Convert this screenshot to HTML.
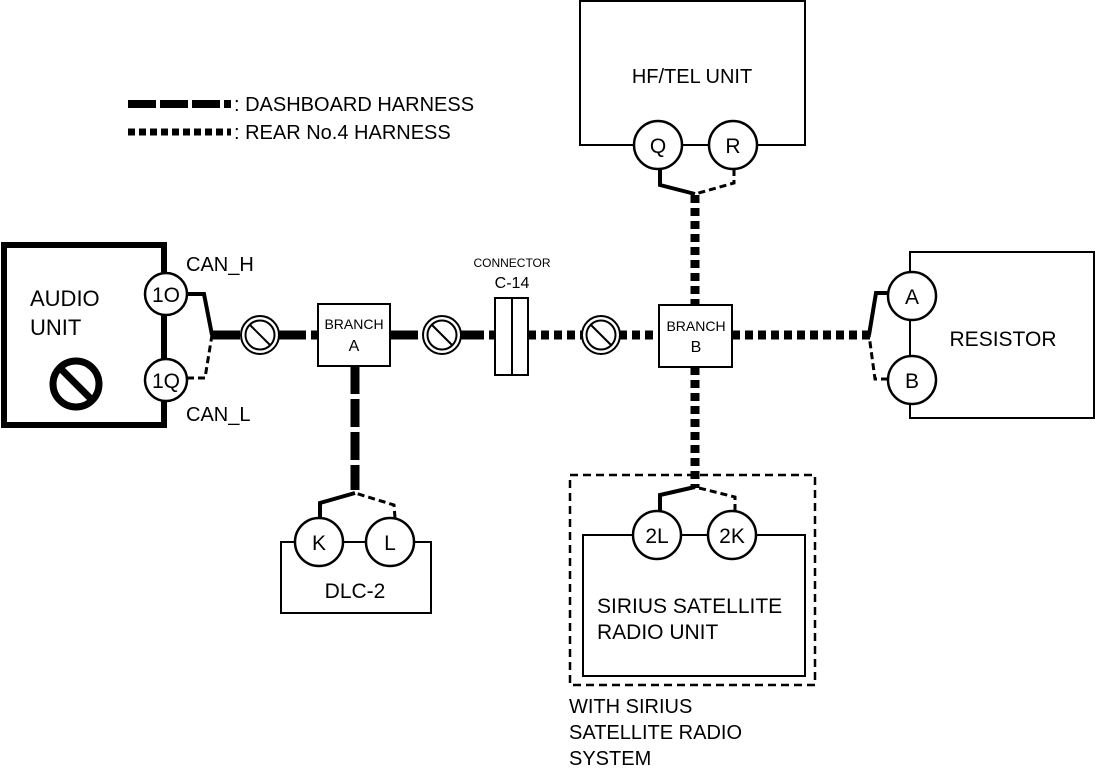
<!DOCTYPE html>
<html><head><meta charset="utf-8"><style>
html,body{margin:0;padding:0;background:#fff}
svg{display:block}
text{font-family:"Liberation Sans",Arial,sans-serif;fill:#000}
</style></head><body>
<svg width="1095" height="775" viewBox="0 0 1095 775" xmlns="http://www.w3.org/2000/svg">
<defs>
<g id="nosym">
<circle r="19" fill="#fff" stroke="#000" stroke-width="2"/>
<circle r="14.5" fill="none" stroke="#000" stroke-width="2"/>
<line x1="-10" y1="-10" x2="10" y2="10" stroke="#000" stroke-width="2"/>
</g>
</defs>
<!-- legend -->
<line x1="128" y1="104" x2="231" y2="104" stroke="#000" stroke-width="8" stroke-dasharray="28,4"/>
<text x="234" y="111" font-size="20">: DASHBOARD HARNESS</text>
<line x1="128" y1="132" x2="231" y2="132" stroke="#000" stroke-width="7" stroke-dasharray="7,4"/>
<text x="234" y="139" font-size="20">: REAR No.4 HARNESS</text>

<!-- harness lines -->
<line x1="212" y1="335" x2="318" y2="335" stroke="#000" stroke-width="9" stroke-dasharray="28,5"/>
<line x1="390" y1="335" x2="495" y2="335" stroke="#000" stroke-width="9" stroke-dasharray="28,5"/>
<line x1="528" y1="335" x2="660" y2="335" stroke="#000" stroke-width="9" stroke-dasharray="8,5"/>
<line x1="732" y1="335" x2="870" y2="335" stroke="#000" stroke-width="9" stroke-dasharray="8,5"/>
<line x1="355" y1="366" x2="355" y2="490" stroke="#000" stroke-width="9" stroke-dasharray="28,5"/>
<line x1="695" y1="195" x2="695" y2="305" stroke="#000" stroke-width="9" stroke-dasharray="8,5"/>
<line x1="695" y1="367" x2="695" y2="488" stroke="#000" stroke-width="9" stroke-dasharray="8,5"/>

<!-- audio unit -->
<rect x="4" y="245" width="160" height="180" fill="#fff" stroke="#000" stroke-width="6"/>
<text x="30" y="306" font-size="22">AUDIO</text>
<text x="30" y="335" font-size="22">UNIT</text>
<circle cx="76" cy="384" r="23" fill="none" stroke="#000" stroke-width="7"/>
<line x1="60" y1="368" x2="92" y2="400" stroke="#000" stroke-width="7"/>
<circle cx="166" cy="294" r="21" fill="#fff" stroke="#000" stroke-width="2.5"/>
<circle cx="166" cy="380" r="21" fill="#fff" stroke="#000" stroke-width="2.5"/>
<text x="166" y="302" font-size="21" text-anchor="middle">1O</text>
<text x="166" y="388" font-size="21" text-anchor="middle">1Q</text>
<text x="186" y="271" font-size="20">CAN_H</text>
<text x="186" y="421" font-size="20">CAN_L</text>
<polyline points="187,294 204,294 212,335" fill="none" stroke="#000" stroke-width="4"/>
<polyline points="187,378 205,378 212,335" fill="none" stroke="#000" stroke-width="3" stroke-dasharray="7,4"/>

<use href="#nosym" x="260" y="335"/>
<use href="#nosym" x="442" y="335"/>
<use href="#nosym" x="601" y="335"/>

<!-- branch A -->
<rect x="318" y="304" width="72" height="62" fill="#fff" stroke="#000" stroke-width="2"/>
<text x="354" y="329" font-size="14" text-anchor="middle">BRANCH</text>
<text x="354" y="351" font-size="16" text-anchor="middle">A</text>

<!-- connector C-14 -->
<text x="512" y="267" font-size="12" text-anchor="middle">CONNECTOR</text>
<text x="512" y="288" font-size="16" text-anchor="middle">C-14</text>
<rect x="495" y="298" width="33" height="77" fill="#fff" stroke="#000" stroke-width="2"/>
<line x1="512" y1="298" x2="512" y2="375" stroke="#000" stroke-width="2"/>

<!-- branch B -->
<rect x="659" y="305" width="73" height="62" fill="#fff" stroke="#000" stroke-width="2"/>
<text x="696" y="331" font-size="14" text-anchor="middle">BRANCH</text>
<text x="696" y="352" font-size="16" text-anchor="middle">B</text>

<!-- HF/TEL -->
<rect x="580" y="1" width="225" height="144" fill="#fff" stroke="#000" stroke-width="2"/>
<text x="692" y="83" font-size="20" text-anchor="middle">HF/TEL UNIT</text>
<circle cx="658" cy="145" r="24" fill="#fff" stroke="#000" stroke-width="2.5"/>
<circle cx="733" cy="145" r="24" fill="#fff" stroke="#000" stroke-width="2.5"/>
<text x="658" y="153" font-size="21" text-anchor="middle">Q</text>
<text x="733" y="153" font-size="21" text-anchor="middle">R</text>
<polyline points="660,169 660,185 695,194" fill="none" stroke="#000" stroke-width="4"/>
<polyline points="734,169 734,183 695,194" fill="none" stroke="#000" stroke-width="3" stroke-dasharray="7,4"/>

<!-- resistor -->
<rect x="910" y="252" width="184" height="166" fill="#fff" stroke="#000" stroke-width="2"/>
<text x="1003" y="346" font-size="21" text-anchor="middle">RESISTOR</text>
<circle cx="912" cy="296" r="24" fill="#fff" stroke="#000" stroke-width="2.5"/>
<circle cx="912" cy="380" r="24" fill="#fff" stroke="#000" stroke-width="2.5"/>
<text x="912" y="304" font-size="21" text-anchor="middle">A</text>
<text x="912" y="388" font-size="21" text-anchor="middle">B</text>
<polyline points="888,293 876,293 869,335" fill="none" stroke="#000" stroke-width="4"/>
<polyline points="888,379 875,379 869,335" fill="none" stroke="#000" stroke-width="3" stroke-dasharray="7,4"/>

<!-- DLC-2 -->
<rect x="281" y="542" width="150" height="71" fill="#fff" stroke="#000" stroke-width="2"/>
<text x="355" y="598" font-size="21" text-anchor="middle">DLC-2</text>
<circle cx="319" cy="542" r="24" fill="#fff" stroke="#000" stroke-width="2.5"/>
<circle cx="390" cy="542" r="24" fill="#fff" stroke="#000" stroke-width="2.5"/>
<text x="319" y="550" font-size="21" text-anchor="middle">K</text>
<text x="390" y="550" font-size="21" text-anchor="middle">L</text>
<polyline points="320,518 320,503 355,493" fill="none" stroke="#000" stroke-width="4"/>
<polyline points="395,518 394,505 355,493" fill="none" stroke="#000" stroke-width="3" stroke-dasharray="7,4"/>

<!-- Sirius -->
<rect x="570" y="475" width="245" height="210" fill="none" stroke="#000" stroke-width="2.5" stroke-dasharray="8,5"/>
<rect x="583" y="535" width="222" height="141" fill="#fff" stroke="#000" stroke-width="2"/>
<text x="597" y="613" font-size="21">SIRIUS SATELLITE</text>
<text x="597" y="639" font-size="21">RADIO UNIT</text>
<circle cx="657" cy="535" r="24" fill="#fff" stroke="#000" stroke-width="2.5"/>
<circle cx="732" cy="535" r="24" fill="#fff" stroke="#000" stroke-width="2.5"/>
<text x="657" y="543" font-size="21" text-anchor="middle">2L</text>
<text x="732" y="543" font-size="21" text-anchor="middle">2K</text>
<polyline points="660,511 660,495 695,487" fill="none" stroke="#000" stroke-width="4"/>
<polyline points="735,511 735,497 695,487" fill="none" stroke="#000" stroke-width="3" stroke-dasharray="7,4"/>
<text x="569" y="713" font-size="20">WITH SIRIUS</text>
<text x="569" y="739" font-size="20">SATELLITE RADIO</text>
<text x="569" y="765" font-size="20">SYSTEM</text>
</svg>
</body></html>
